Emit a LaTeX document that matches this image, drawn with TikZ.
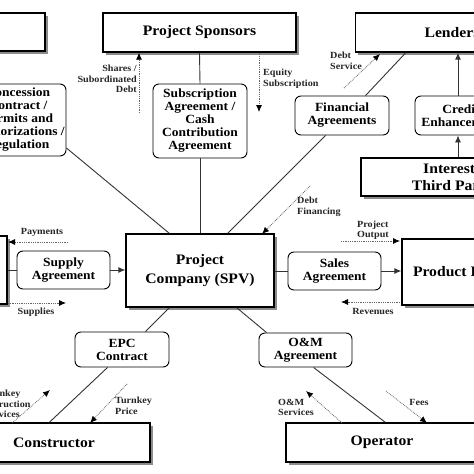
\documentclass[tikz,border=0pt]{standalone}
\usepackage{fontspec}
\setmainfont{Liberation Serif}[FakeStretch=1.08]
\usetikzlibrary{shadows,arrows.meta,calc}
\begin{document}
\begin{tikzpicture}[x=1pt,y=-1pt,
  every node/.style={font=\bfseries},
  bigbox/.style={draw=black, line width=1.3pt, fill=white, inner sep=0pt, align=center,
    font=\bfseries\fontsize{14.5}{17}\selectfont,
    drop shadow={shadow xshift=2.5pt, shadow yshift=-2.5pt, fill=black!45, opacity=1}},
  rbox/.style={draw=black, line width=0.9pt, rounded corners=6pt, fill=white, inner sep=0pt,
    align=center, font=\bfseries\fontsize{12.5}{13}\selectfont},
  link/.style={line width=0.9pt, draw=black!80},
  tip/.style={-{Latex[length=7pt,width=6pt]}},
  flow/.style={densely dotted, line width=0.8pt, draw=black!60, -{Latex[length=7pt,width=6pt,black]}},
  flabel/.style={font=\bfseries\fontsize{9.4}{10.5}\selectfont, inner sep=0pt, text=black!85},
]
\useasboundingbox (0,0) rectangle (474,474);
\clip (0,0) rectangle (474,474);
\fill[white] (0,0) rectangle (474,474);

% boxes
\node[bigbox, minimum width=105pt, minimum height=38pt] (hostgov) at (-7.5,32) {};
\node[bigbox, minimum width=193pt, minimum height=39pt] (sponsors) at (199.5,32.5) {Project Sponsors};
\node[bigbox, minimum width=193pt, minimum height=39pt] (lenders) at (452,32.5) {Lenders};
\node[rbox, minimum width=96pt, minimum height=72pt] (concession) at (18,120) {Concession\\Contract /\\Permits and\\Authorizations /\\Regulation};
\node[rbox, minimum width=94pt, minimum height=74pt] (subscription) at (200,121) {Subscription\\Agreement /\\Cash\\Contribution\\Agreement};
\node[rbox, minimum width=94pt, minimum height=39pt] (financial) at (342,115.5) {Financial\\Agreements};
\node[rbox, minimum width=92pt, minimum height=39pt] (credit) at (461,115.5) {Credit\\Enhancement};
\node[bigbox, minimum width=192pt, minimum height=38pt, font=\bfseries\fontsize{14.5}{16.5}\selectfont] (third) at (457,177) {Interested\\Third Parties};
\node[bigbox, minimum width=148pt, minimum height=73pt, font=\bfseries\fontsize{14.5}{19}\selectfont] (spv) at (200,270.5) {Project\\Company (SPV)};
\node[rbox, minimum width=93pt, minimum height=38pt] (supply) at (63.5,270) {Supply\\Agreement};
\node[bigbox, minimum width=94pt, minimum height=68pt] (supplier) at (-40,270) {};
\node[rbox, minimum width=93pt, minimum height=38pt] (sales) at (334.5,271) {Sales\\Agreement};
\node[bigbox, minimum width=148pt, minimum height=66pt] (product) at (476,272) {Product Purchaser};
\node[rbox, minimum width=94pt, minimum height=35pt] (epc) at (122,349.5) {EPC\\Contract};
\node[rbox, minimum width=93pt, minimum height=34pt] (om) at (305.5,350) {O\&M\\Agreement};
\node[bigbox, minimum width=192pt, minimum height=39pt] (constructor) at (54,442.5) {Constructor};
\node[bigbox, minimum width=192pt, minimum height=39pt] (operator) at (382,442.5) {Operator};

% solid links
\draw[link] (sponsors.south) -- (subscription.north);
\draw[link] (subscription.south) -- (spv.north);
\coordinate (spvA) at ($(spv.north west)+(44,0)$);
\coordinate (conA) at ($(concession.east)+(0,28)$);
\draw[link] (spvA) -- (conA);
\coordinate (spvB) at ($(spv.north east)+(-47,0)$);
\coordinate (finB) at ($(financial.south west)+(31,0)$);
\draw[link] (spvB) -- (finB);
\coordinate (lenA) at ($(lenders.south west)+(51,0)$);
\coordinate (finA) at ($(financial.north west)+(71,0)$);
\draw[link] (lenA) -- (finA);
\coordinate (cx) at (458,0);
\draw[link, tip] (cx |- credit.north) -- (cx |- lenders.south);
\draw[link, tip] (cx |- third.north) -- (cx |- credit.south);
\draw[link] (supplier.east |- supply.west) -- (supply.west);
\draw[link, tip] (supply.east) -- (supply.east -| spv.west);
\draw[link] (spv.east |- sales.west) -- (sales.west);
\draw[link, tip] (sales.east) -- (sales.east -| product.west);
\coordinate (spvC) at ($(spv.south west)+(44,0)$);
\coordinate (epcA) at ($(epc.north west)+(71,0)$);
\draw[link] (spvC) -- (epcA);
\coordinate (epcB) at ($(epc.south west)+(33,0)$);
\coordinate (conB) at ($(constructor.north west)+(92,0)$);
\draw[link] (epcB) -- (conB);
\coordinate (spvD) at ($(spv.south east)+(-38,0)$);
\coordinate (omA) at ($(om.north west)+(8,0)$);
\draw[link] (spvD) -- (omA);
\coordinate (omB) at ($(om.south west)+(55,0)$);
\coordinate (opA) at ($(operator.north west)+(100,0)$);
\draw[link] (omB) -- (opA);

% flows
\coordinate (sh0) at (139,113);
\draw[flow] (sh0) -- (sh0 |- sponsors.south);
\node[flabel, anchor=north east, align=right] (lshares) at (137,65) {Shares /\\Subordinated\\Debt};

\coordinate (eq1) at (259,112);
\draw[flow] (eq1 |- sponsors.south) -- (eq1);
\node[flabel, anchor=north west, align=left] (lequity) at (263,69) {Equity\\Subscription};

\coordinate (ds0) at (344,88);
\coordinate (ds1) at (380,54);
\draw[flow] (ds0) -- (ds1);
\node[flabel, anchor=north west, align=left] (ldebts) at (330,52) {Debt\\Service};

\coordinate (df0) at (310,186);
\coordinate (df1) at (262,234);
\draw[flow] (df0) -- (df1);
\node[flabel, anchor=north west, align=left] (ldebtf) at (297,197) {Debt\\Financing};

\coordinate (pay0) at (68,242);
\coordinate (pay1) at (8,242);
\draw[flow] (pay0) -- (pay1);
\node[flabel] (lpay) at (42,232) {Payments};

\coordinate (sup0) at (8,303);
\coordinate (sup1) at (66,303);
\draw[flow] (sup0) -- (sup1);
\node[flabel] (lsup) at (36,312) {Supplies};

\coordinate (po0) at (341,241);
\coordinate (po1) at (400,241);
\draw[flow] (po0) -- (po1);
\node[flabel, anchor=south west, align=left] (lpo) at (357,240) {Project\\Output};

\coordinate (rv0) at (400,302);
\coordinate (rv1) at (341,302);
\draw[flow] (rv0) -- (rv1);
\node[flabel] (lrv) at (373,311) {Revenues};

\coordinate (tc0) at (12,423);
\coordinate (tc1) at (50,390);
\draw[flow] (tc0) -- (tc1);
\node[flabel, align=center] (ltc) at (2,404) {Turnkey\\Construction\\Services};

\coordinate (tp0) at (127,384);
\coordinate (tp1) at (90,423);
\draw[flow] (tp0) -- (tp1);
\node[flabel, anchor=north west, align=left] (ltp) at (115,397) {Turnkey\\Price};

\coordinate (os0) at (342,423);
\coordinate (os1) at (306,391);
\draw[flow] (os0) -- (os1);
\node[flabel, anchor=north west, align=left] (los) at (278,399) {O\&M\\Services};

\coordinate (fe0) at (386,391);
\coordinate (fe1) at (427,423);
\draw[flow] (fe0) -- (fe1);
\node[flabel] (lfe) at (419,402) {Fees};
\end{tikzpicture}
\end{document}
